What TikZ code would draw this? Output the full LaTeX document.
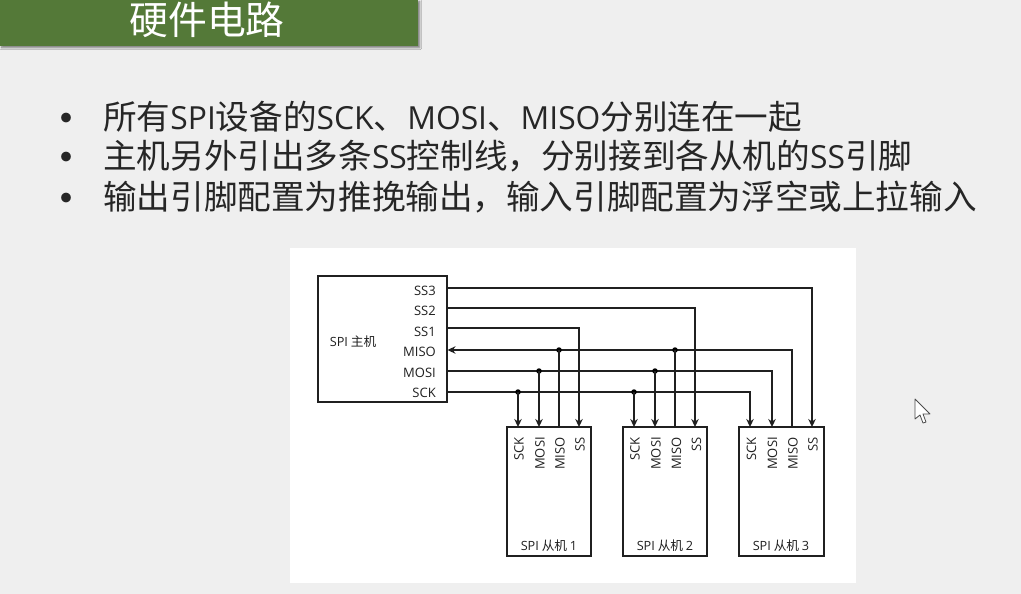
\documentclass[tikz,border=0pt]{standalone}
\usepackage{fontspec}
\setmainfont{Noto Sans CJK SC}
\newfontfamily\latn{Open Sans}
\newcommand{\lat}[1]{{\latn\fontsize{31.8}{36}\selectfont #1}}
\definecolor{PageGray}{RGB}{239, 239, 239}
\definecolor{BarGreen}{RGB}{84, 121, 56}
\definecolor{WireDk}  {RGB}{32, 32, 32}
\usetikzlibrary{arrows.meta, shadows.blur}

\begin{document}
\begin{tikzpicture}[>={Stealth[length=8pt, width=7.5pt]}, x=1pt, y=-1pt,
  titlebar/.style={fill=BarGreen, minimum width=418pt, minimum height=46pt,
             inner sep=0pt, anchor=north west,
             blur shadow={shadow xshift=1.5pt, shadow yshift=-1.5pt, shadow blur steps=6, shadow blur radius=2pt, shadow opacity=50}},
  point/.style={font=\fontsize{33.6}{38}\selectfont\color{black!85}, anchor=west, inner sep=0pt},
  bullet/.style={font=\fontsize{46}{50}\selectfont\color{black!85}, anchor=center, inner sep=0pt},
  chip/.style={draw=WireDk, line width=1.6pt, fill=white, inner sep=0pt, outer sep=0pt, anchor=north west},
  pinL/.style={font=\latn\fontsize{13}{15}\selectfont\color{WireDk}, anchor=east, inner sep=0pt},
  pinS/.style={font=\latn\fontsize{13}{15}\selectfont\color{WireDk}, anchor=east, inner sep=0pt, rotate=90},
  chipcap/.style={font=\fontsize{12.7}{15}\selectfont\color{WireDk}, inner sep=0pt},
  wire/.style={draw=WireDk, line width=1.6pt},
  dot/.style={circle, fill=black, inner sep=0pt, minimum size=5.5pt}
]
  \useasboundingbox (0,0) rectangle (1021,594);
  \fill[PageGray] (0,0) rectangle (1021,594);

  %% Title bar
  \node[titlebar] (BAR) at (0,0) {};
  \node[font=\fontsize{38.8}{44}\selectfont\color{white}] (TITLE) at (207,20) {硬件电路};

  %% Bullet points
  \node[bullet] (B1) at (66,124) {•};
  \node[bullet] (B2) at (66,163) {•};
  \node[bullet] (B3) at (66,204) {•};
  \node[point] (P1) at (103,117) {所有\lat{SPI}设备的\lat{SCK}、\lat{MOSI}、\lat{MISO}分别连在一起};
  \node[point] (P2) at (103,156) {主机另外引出多条\lat{SS}控制线，分别接到各从机的\lat{SS}引脚};
  \node[point] (P3) at (103,197) {输出引脚配置为推挽输出，输入引脚配置为浮空或上拉输入};

  %% White panel
  \fill[white] (290,248) rectangle (856,583);

  %% Master
  \node[chip, minimum width=129pt, minimum height=126pt] (MASTER) at (318,276) {};
  \node[chipcap] (MCAP) at (353,342) {{\latn SPI} 主机};
  \node[pinL] (LSS3)  at (436,291) {SS3};
  \node[pinL] (LSS2)  at (436,311) {SS2};
  \node[pinL] (LSS1)  at (436,332) {SS1};
  \node[pinL] (LMISO) at (436,352) {MISO};
  \node[pinL] (LMOSI) at (436,373) {MOSI};
  \node[pinL] (LSCK)  at (436,393) {SCK};

  \coordinate (mSS3)  at (447,288);
  \coordinate (mSS2)  at (447,308);
  \coordinate (mSS1)  at (447,328);
  \coordinate (mMISO) at (447.5,350);
  \coordinate (mMOSI) at (447,371);
  \coordinate (mSCK)  at (447,392);

  %% Slaves
  \node[chip, minimum width=84pt, minimum height=129pt] (SA) at (507,427) {};
  \node[chip, minimum width=84pt, minimum height=129pt] (SB) at (623,427) {};
  \node[chip, minimum width=85pt, minimum height=129pt] (SC) at (739,427) {};
  \node[chipcap] (CA) at (549,546) {{\latn SPI} 从机 {\latn 1}};
  \node[chipcap] (CB) at (665,546) {{\latn SPI} 从机 {\latn 2}};
  \node[chipcap] (CC) at (781,546) {{\latn SPI} 从机 {\latn 3}};

  \coordinate (aSCK)  at (518,427);
  \coordinate (aMOSI) at (539,427);
  \coordinate (aMISO) at (559,427);
  \coordinate (aSS)   at (579,427);
  \coordinate (bSCK)  at (634,427);
  \coordinate (bMOSI) at (655,427);
  \coordinate (bMISO) at (675,427);
  \coordinate (bSS)   at (695,427);
  \coordinate (cSCK)  at (750,427);
  \coordinate (cMOSI) at (772,427);
  \coordinate (cMISO) at (792,427);
  \coordinate (cSS)   at (812,427);

  \node[pinS] (TA1) at (519,437) {SCK};
  \node[pinS] (TA2) at (540,437) {MOSI};
  \node[pinS] (TA3) at (560,437) {MISO};
  \node[pinS] (TA4) at (580,437) {SS};
  \node[pinS] (TB1) at (635,437) {SCK};
  \node[pinS] (TB2) at (656,437) {MOSI};
  \node[pinS] (TB3) at (676.5,437) {MISO};
  \node[pinS] (TB4) at (696.5,437) {SS};
  \node[pinS] (TC1) at (751.5,437) {SCK};
  \node[pinS] (TC2) at (772.5,437) {MOSI};
  \node[pinS] (TC3) at (793,437) {MISO};
  \node[pinS] (TC4) at (813,437) {SS};

  %% Select lines
  \draw[wire, ->] (mSS1) -| (aSS);
  \draw[wire, ->] (mSS2) -| (bSS);
  \draw[wire, ->] (mSS3) -| (cSS);

  %% Shared buses
  \draw[wire, ->] (mSCK) -| (cSCK);
  \draw[wire, ->] (mMOSI) -| (cMOSI);
  \draw[wire, ->] (cMISO) |- (mMISO);

  %% Taps on the buses
  \node[dot] (dA1) at (mSCK -| aSCK) {};
  \node[dot] (dA2) at (mMOSI -| aMOSI) {};
  \node[dot] (dA3) at (mMISO -| aMISO) {};
  \node[dot] (dB1) at (mSCK -| bSCK) {};
  \node[dot] (dB2) at (mMOSI -| bMOSI) {};
  \node[dot] (dB3) at (mMISO -| bMISO) {};
  \draw[wire, ->] (dA1.center) -- (aSCK);
  \draw[wire, ->] (dA2.center) -- (aMOSI);
  \draw[wire] (aMISO) -- (dA3.center);
  \draw[wire, ->] (dB1.center) -- (bSCK);
  \draw[wire, ->] (dB2.center) -- (bMOSI);
  \draw[wire] (bMISO) -- (dB3.center);

  %% Mouse pointer
  \draw[draw=black!70, fill=white, line width=0.8pt, line join=round]
    (915,399) -- (915,419) -- (920,415) -- (923,423) -- (926,422) -- (923,414) -- (930,414) -- cycle;
\end{tikzpicture}
\end{document}
